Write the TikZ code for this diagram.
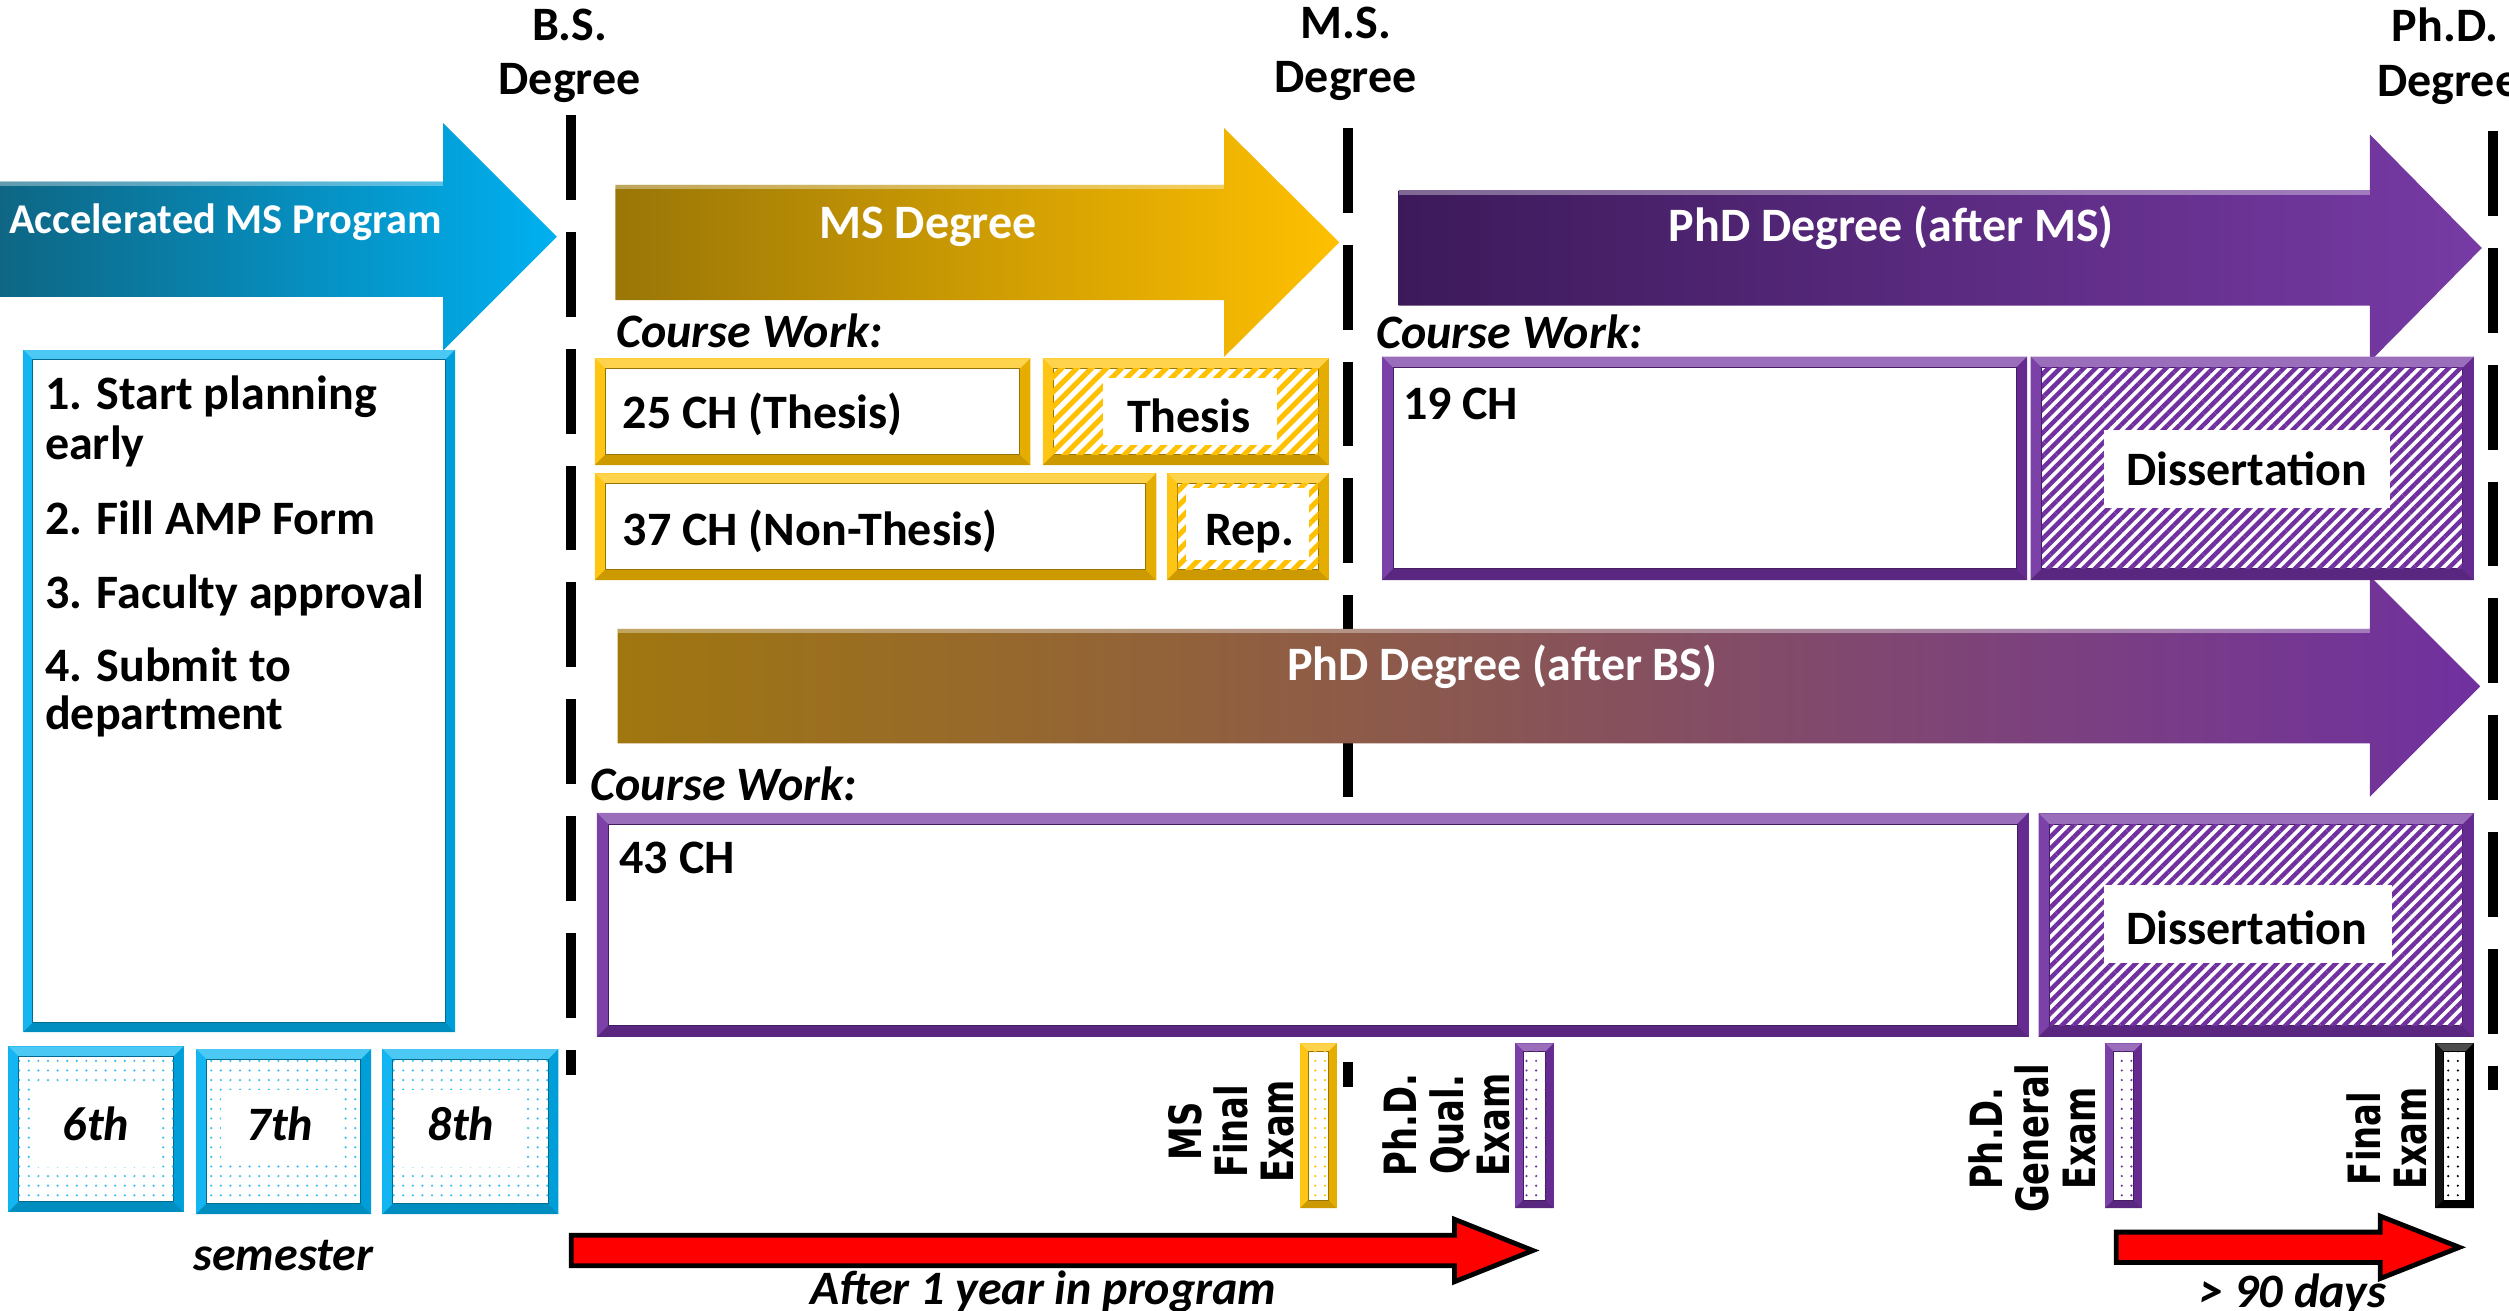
\documentclass[tikz,border=0pt]{standalone}
\usepackage{fontspec}
\setmainfont{Carlito}
\newfontfamily\examfont[FakeStretch=0.76]{DejaVu Sans}
\usetikzlibrary{patterns.meta}
\definecolor{cyanA}{HTML}{00B0F0}
\definecolor{tealD}{HTML}{0E6684}
\definecolor{goldA}{HTML}{FFC000}
\definecolor{goldD}{HTML}{9A7607}
\definecolor{purA}{HTML}{7030A0}
\definecolor{purD}{HTML}{3C1A5A}
\definecolor{brownL}{HTML}{A0770F}
\definecolor{mauve}{HTML}{8A6064}
\definecolor{redA}{HTML}{FF0000}
% bevelled frame: x1 y1 x2 y2 colour thickness
\newcommand\bevelbox[6]{%
  \fill[#5] (#1,#2) rectangle (#3,#4);
  \fill[#5!70!white] (#1,#2) -- (#3,#2) -- (#3-#6,#2+#6) -- (#1+#6,#2+#6) -- cycle;
  \fill[#5!92!white] (#1,#2) -- (#1+#6,#2+#6) -- (#1+#6,#4-#6) -- (#1,#4) -- cycle;
  \fill[#5!80!black] (#1,#4) -- (#1+#6,#4-#6) -- (#3-#6,#4-#6) -- (#3,#4) -- cycle;
  \fill[#5!90!black] (#3,#2) -- (#3-#6,#2+#6) -- (#3-#6,#4-#6) -- (#3,#4) -- cycle;
  \fill[white] (#1+#6,#2+#6) rectangle (#3-#6,#4-#6);
  \draw[#5!60!black, line width=0.6pt] (#1+#6,#2+#6) rectangle (#3-#6,#4-#6);
}
\begin{document}
\begin{tikzpicture}[x=1pt,y=-1pt,
  lbl/.style={font=\fontsize{30}{33}\selectfont\bfseries, inner sep=0pt, anchor=base},
  lblw/.style={lbl, anchor=base west},
  wlbl/.style={lbl, text=white},
  ilbl/.style={font=\fontsize{30}{33}\selectfont\bfseries\itshape, inner sep=0pt, anchor=base},
  exam/.style={font=\examfont\fontsize{27.8}{29}\selectfont\bfseries, rotate=90, inner sep=0pt, align=center},
  dline/.style={line width=6pt, dash pattern=on 53pt off 20pt},
  hatchG/.style={pattern={Lines[angle=45, distance=6.6pt, line width=3.2pt]}, pattern color=goldA},
  hatchP/.style={pattern={Lines[angle=45, distance=5.2pt, line width=2.8pt]}, pattern color=purA},
  dots/.style={pattern={Dots[distance=6pt, radius=0.75pt]}, pattern color=#1},
  redarrow/.style={fill=redA, draw=black, line width=3pt, line join=miter},
  gloss/.style={white, opacity=.35, line width=2.5pt},
]
\useasboundingbox (0,0) rectangle (1568,819);
\clip (0,0) rectangle (1568,819);

% ---- degree milestones (dashed lines) ----
\draw[dline] (357,72) -- (357,672);
\draw[dline] (842.5,80) -- (842.5,679);
\draw[dline] (1558,82) -- (1558,681);

\node[lbl] (bsA) at (356,25) {B.S.};
\node[lbl] (bsB) at (356,59) {Degree};
\node[lbl] (msA) at (841,24) {M.S.};
\node[lbl] (msB) at (841,58) {Degree};
\node[lbl] (phA) at (1528,26) {Ph.D.};
\node[lbl] (phB) at (1530,60) {Degree};

% ---- big block arrows ----
\shade[left color=tealD, right color=cyanA]
  (0,113.5) -- (277,113.5) -- (277,77) -- (348,148) -- (277,219) -- (277,185.5) -- (0,185.5) -- cycle;
\draw[gloss] (0,115) -- (277,115);
\shade[left color=goldD, right color=goldA]
  (384.5,115.5) -- (765,115.5) -- (765,80) -- (837,151.5) -- (765,223) -- (765,187.5) -- (384.5,187.5) -- cycle;
\draw[gloss] (384.5,117) -- (765,117);
\shade[left color=purD, right color=purA!95!white]
  (874,119) -- (1481,119) -- (1481,84) -- (1551,155) -- (1481,226) -- (1481,191) -- (874,191) -- cycle;
\draw[gloss] (874,120.5) -- (1481,120.5);
\shade[left color=brownL, middle color=mauve, right color=purA]
  (386,393) -- (1481,393) -- (1481,360) -- (1550,429) -- (1481,498) -- (1481,464.5) -- (386,464.5) -- cycle;
\draw[gloss] (386,394.5) -- (1481,394.5);

\node[wlbl, font=\fontsize{26.5}{30}\selectfont\bfseries] (amp) at (141,146) {Accelerated MS Program};
\node[wlbl] (msdeg) at (580,149) {MS Degree};
\node[wlbl] (phdms) at (1182,151) {PhD Degree (after MS)};
\node[wlbl] (phdbs) at (939,425) {PhD Degree (after BS)};

% ---- AMP steps box ----
\bevelbox{14.6}{218.75}{284.4}{645}{cyanA}{6}
\node[lblw] (st1) at (28,256) {1. Start planning};
\node[lblw] (st1b) at (28,287) {early};
\node[lblw] (st2) at (28,334) {2. Fill AMP Form};
\node[lblw] (st3) at (28,380) {3. Faculty approval};
\node[lblw] (st4) at (28,426) {4. Submit to};
\node[lblw] (st4b) at (28,456) {department};

% ---- semesters ----
\bevelbox{5.3}{654}{114.8}{757.3}{cyanA}{6.5}
\fill[dots=cyanA!80] (11.8,660.5) rectangle (108.3,750.8);
\fill[white] (22.7,680) rectangle (98,729);
\bevelbox{122.5}{655.6}{232}{758.75}{cyanA}{6.5}
\fill[dots=cyanA!80] (129,662.1) rectangle (225.5,752.25);
\fill[white] (138,681) rectangle (212,728);
\bevelbox{239}{655.6}{349}{758.75}{cyanA}{6.5}
\fill[dots=cyanA!80] (245.5,662.1) rectangle (342.5,752.25);
\fill[white] (251,681) rectangle (326.5,729);
\node[ilbl] (sem6) at (60,712.5) {6th};
\node[ilbl] (sem7) at (175,712.5) {7th};
\node[ilbl] (sem8) at (288,712.5) {8th};
\node[ilbl] (sem) at (177,794) {semester};

% ---- MS course work ----
\node[ilbl, anchor=base west] (cw1) at (385,217) {Course Work:};
\bevelbox{371.8}{224}{643.9}{290.6}{goldA}{6.5}
\bevelbox{651.7}{224}{830.5}{290.6}{goldA}{6.5}
\fill[hatchG] (658.2,230.5) rectangle (824,284.1);
\fill[white] (689,236.5) rectangle (798,278);
\bevelbox{371.8}{295.8}{722.6}{362.5}{goldA}{6.5}
\bevelbox{729.4}{295.8}{830.5}{362.5}{goldA}{6.5}
\fill[hatchG] (735.9,302.3) rectangle (824,356);
\fill[white] (741,305) rectangle (818,350);
\node[lblw] (ch25) at (389,268) {25 CH (Thesis)};
\node[lbl] (thesis) at (743,270) {Thesis};
\node[lblw] (ch37) at (389,341) {37 CH (Non-Thesis)};
\node[lbl] (rep) at (781,341) {Rep.};

% ---- PhD after MS course work ----
\node[ilbl, anchor=base west] (cw2) at (860,218) {Course Work:};
\bevelbox{863.7}{222.9}{1266.9}{362.5}{purA}{7}
\bevelbox{1269}{222.9}{1546}{362.5}{purA}{7}
\fill[hatchP] (1276,229.9) rectangle (1539,355.5);
\fill[white] (1315,268.75) rectangle (1493.6,317.7);
\node[lblw] (ch19) at (876.6,262) {19 CH};
\node[lbl] (diss1) at (1404,303.5) {Dissertation};

% ---- PhD after BS course work ----
\node[ilbl, anchor=base west] (cw3) at (369,500) {Course Work:};
\bevelbox{373}{508}{1267.7}{648}{purA}{7}
\bevelbox{1274}{508.3}{1546}{648}{purA}{7}
\fill[hatchP] (1281,515.3) rectangle (1539,641);
\fill[white] (1314.7,553) rectangle (1495,602);
\node[lblw] (ch43) at (387,546) {43 CH};
\node[lbl] (diss2) at (1404,590) {Dissertation};

% ---- exams ----
\bevelbox{812.5}{652}{835.4}{755}{goldA}{5}
\fill[dots=goldA] (817.5,657) rectangle (830.4,750);
\bevelbox{947}{652}{971}{755}{purA}{5}
\fill[dots=purA] (952,657) rectangle (966,750);
\bevelbox{1315.6}{652}{1338.5}{755}{purA}{5}
\fill[dots=purA] (1320.6,657) rectangle (1333.5,750);
\bevelbox{1522}{652}{1546}{755}{black}{5}
\fill[dots=black] (1527,657) rectangle (1541,750);

\node[exam] (exMS) at (769.5,707) {MS\\Final\\Exam};
\node[exam] (exQ) at (904,703) {Ph.D.\\Qual.\\Exam};
\node[exam] (exG) at (1270,711.5) {Ph.D.\\General\\Exam};
\node[exam] (exF) at (1491.5,711.5) {Final\\Exam};

% ---- time spans ----
\draw[redarrow] (357,772) -- (909,772) -- (909,762) -- (958,781.5) -- (909,801) -- (909,791) -- (357,791) -- cycle;
\draw[redarrow] (1322.5,770) -- (1487.5,770) -- (1487.5,760) -- (1537,779.5) -- (1487.5,799) -- (1487.5,789) -- (1322.5,789) -- cycle;
\node[ilbl] (yr) at (652,815) {After 1 year in program};
\node[ilbl] (days) at (1433,817) {> 90 days};
\end{tikzpicture}
\end{document}
